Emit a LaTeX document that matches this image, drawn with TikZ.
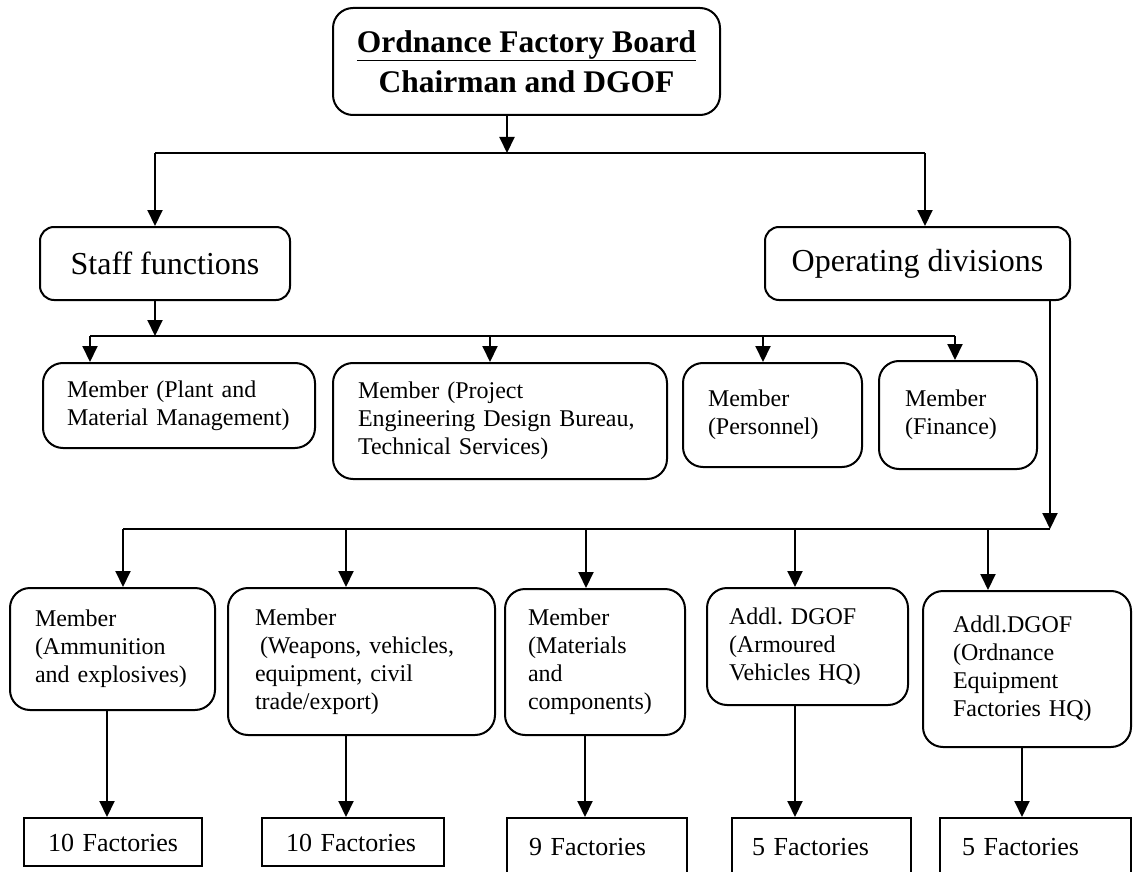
\documentclass[tikz,border=0pt]{standalone}
\usepackage{fontspec}
\setmainfont{Liberation Serif}
\usetikzlibrary{arrows.meta}
\frenchspacing
\tikzset{
  rbox/.style={draw, line width=2pt, rounded corners=20pt, inner sep=0pt, align=left,
               font=\fontsize{24}{28}\selectfont},
  facbox/.style={draw, line width=2pt, inner sep=0pt, align=left,
               font=\fontsize{26}{30}\selectfont, text height=18pt, text depth=0pt},
  arr/.style={line width=2pt, -{Triangle[width=15pt,length=16pt]}},
  ln/.style={line width=2pt}
}
\begin{document}
\begin{tikzpicture}[x=1pt,y=-1pt]
\fill[white] (0,0) rectangle (1133,872);
\useasboundingbox (0,0) rectangle (1133,872);
\clip (0,0) rectangle (1133,872);

% top
\node[rbox, align=center, font=\bfseries\fontsize{31.5}{40}\selectfont,
      minimum width=387pt, minimum height=107pt] (top) at (526.5,61.5)
      {\underline{Ordnance Factory Board}\\Chairman and DGOF};

% second level
\node[rbox, rounded corners=14pt, align=center, font=\fontsize{32}{36}\selectfont,
      minimum width=250pt, minimum height=73pt] (staff) at (165,263.5) {Staff functions};
\node[rbox, rounded corners=14pt, align=center, font=\fontsize{32}{36}\selectfont,
      minimum width=305pt, minimum height=73pt] (op) at (917.5,263.5) {Operating divisions};

% staff members
\node[rbox, minimum width=272pt, minimum height=85pt, text width=224pt] (plant) at (179,405.5)
      {Member (Plant and\\Material Management)};
\node[rbox, minimum width=334pt, minimum height=116pt, text width=284pt] (proj) at (500,421)
      {Member (Project\\Engineering Design Bureau,\\Technical Services)};
\node[rbox, minimum width=179pt, minimum height=104pt, text width=129pt] (pers) at (772.5,415)
      {Member\\(Personnel)};
\node[rbox, minimum width=158pt, minimum height=108pt, text width=106pt] (fin) at (958,415)
      {Member\\(Finance)};

% operating members
\node[rbox, minimum width=205pt, minimum height=122pt, text width=155pt] (amm) at (112.5,649)
      {Member\\(Ammunition\\and explosives)};
\node[rbox, minimum width=267pt, minimum height=147pt, text width=213pt] (weap) at (361.5,661.5)
      {Member\\\hspace*{5pt}(Weapons, vehicles,\\equipment, civil\\trade/export)};
\node[rbox, minimum width=180pt, minimum height=146pt, text width=134pt] (mat) at (595,662)
      {Member\\(Materials\\and\\components)};
\node[rbox, minimum width=201pt, minimum height=117pt, text width=157pt] (arm) at (807.5,646.5)
      {Addl. DGOF\\(Armoured\\Vehicles HQ)};
\node[rbox, minimum width=208pt, minimum height=156pt, text width=148pt] (oef) at (1027,669)
      {Addl.DGOF\\(Ordnance\\Equipment\\Factories HQ)};

% factories
\node[facbox, minimum width=178pt, minimum height=48pt, text width=130pt] (f1) at (113,842) {10 Factories};
\node[facbox, minimum width=182pt, minimum height=48pt, text width=134pt] (f2) at (353,842) {10 Factories};
\node[facbox, text depth=4pt, minimum width=180pt, minimum height=60pt, text width=136pt] (f3) at (597,848) {9 Factories};
\node[facbox, text depth=4pt, minimum width=179pt, minimum height=60pt, text width=139pt] (f4) at (821.5,848) {5 Factories};
\node[facbox, text depth=4pt, minimum width=191pt, minimum height=60pt, text width=147pt] (f5) at (1035.5,848) {5 Factories};

% connectors: level 1
\coordinate (j1) at (507,153);
\coordinate (j1l) at (155,153);
\coordinate (j1r) at (925,153);
\draw[arr] (top.south -| j1) -- (j1);
\draw[ln] (j1l) -- (j1r);
\draw[arr] (j1l) -- (j1l |- staff.north);
\draw[arr] (j1r) -- (j1r |- op.north);

% connectors: staff
\coordinate (j2) at (155,336);
\coordinate (j2a) at (90,336);
\coordinate (j2b) at (490,336);
\coordinate (j2c) at (763,336);
\coordinate (j2d) at (955,336);
\draw[arr] (staff.south -| j2) -- (j2);
\draw[ln] (j2a) -- (j2d);
\draw[arr] (j2a) -- (j2a |- plant.north);
\draw[arr] (j2b) -- (j2b |- proj.north);
\draw[arr] (j2c) -- (j2c |- pers.north);
\draw[arr] (j2d) -- (j2d |- fin.north);

% connectors: operating
\coordinate (j3) at (1050,529);
\coordinate (j3a) at (123,529);
\coordinate (j3b) at (346,529);
\coordinate (j3c) at (586,529);
\coordinate (j3d) at (795,529);
\coordinate (j3e) at (988,529);
\draw[arr] (op.south -| j3) -- (j3);
\draw[ln] (j3a) -- (j3);
\draw[arr] (j3a) -- (j3a |- amm.north);
\draw[arr] (j3b) -- (j3b |- weap.north);
\draw[arr] (j3c) -- (j3c |- mat.north);
\draw[arr] (j3d) -- (j3d |- arm.north);
\draw[arr] (j3e) -- (j3e |- oef.north);

% to factories
\coordinate (k1) at (107,0);
\coordinate (k2) at (346,0);
\coordinate (k3) at (585,0);
\coordinate (k4) at (795,0);
\coordinate (k5) at (1022,0);
\draw[arr] (amm.south -| k1) -- (f1.north -| k1);
\draw[arr] (weap.south -| k2) -- (f2.north -| k2);
\draw[arr] (mat.south -| k3) -- (f3.north -| k3);
\draw[arr] (arm.south -| k4) -- (f4.north -| k4);
\draw[arr] (oef.south -| k5) -- (f5.north -| k5);
\end{tikzpicture}
\end{document}
